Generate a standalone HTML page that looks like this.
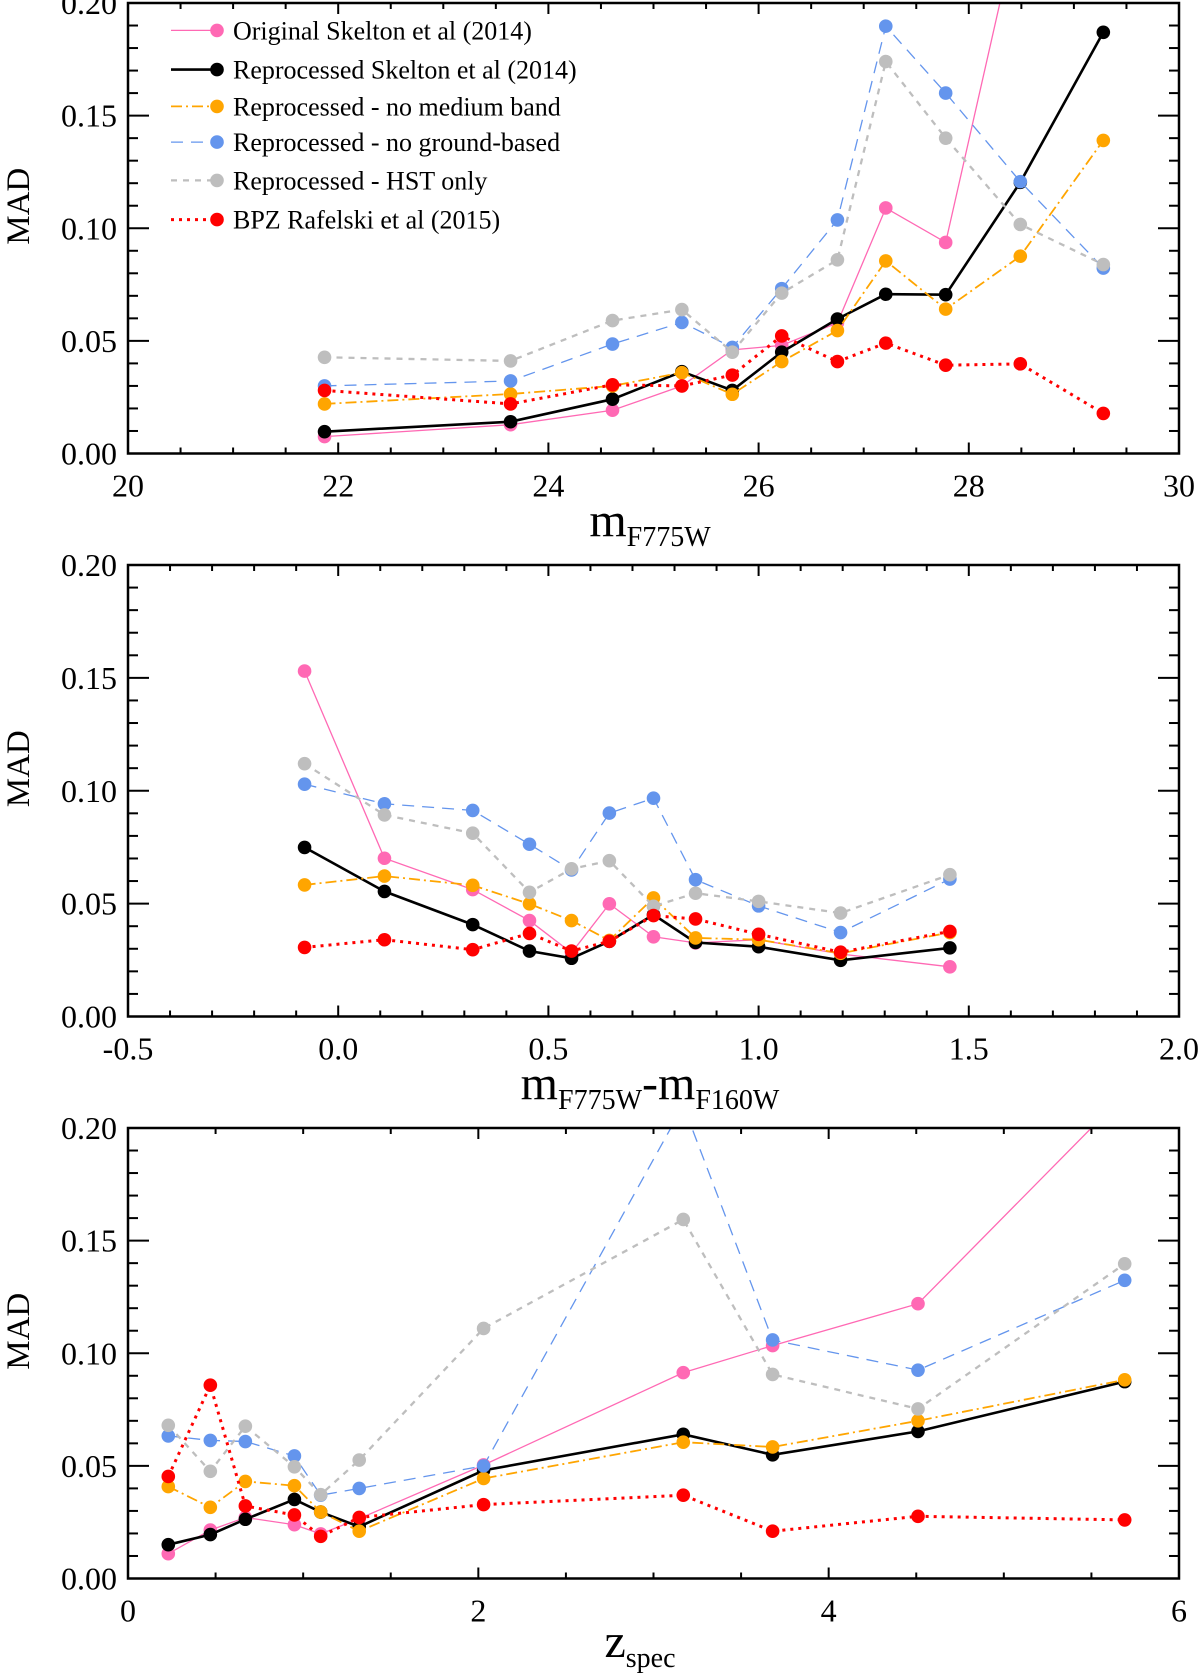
<!DOCTYPE html>
<html><head><meta charset="utf-8"><style>
html,body{margin:0;padding:0;background:#fff;}
svg{display:block;font-family:"Liberation Serif",serif;}
</style></head><body>
<svg id="chart" width="1200" height="1678" viewBox="0 0 1200 1678" xmlns="http://www.w3.org/2000/svg"></svg>
<script>
// ---------- data ----------
const seriesNames = ["Original Skelton et al (2014)","Reprocessed Skelton et al (2014)","Reprocessed - no medium band","Reprocessed - no ground-based","Reprocessed - HST only","BPZ Rafelski et al (2015)"];
const seriesKeys = ["original","reprocessed","no-medium-band","no-ground-based","hst-only","bpz-rafelski"];

const mag = [21.87,23.64,24.61,25.27,25.75,26.22,26.75,27.21,27.78,28.49,29.28];
const magOriginal = [0.0075,0.0128,0.0192,0.030,0.046,0.048,0.058,0.109,0.0937,0.24,0.30];
const magReproc = [0.0097,0.0141,0.0241,0.0363,0.028,0.045,0.0597,0.0707,0.0705,0.1204,0.187];
const magNoMed = [0.022,0.0264,0.030,0.0359,0.0263,0.0408,0.0546,0.0855,0.0641,0.0876,0.139];
const magNoGround = [0.030,0.0322,0.0486,0.0582,0.0471,0.0732,0.1037,0.1897,0.160,0.1207,0.0823];
const magHst = [0.0427,0.0411,0.059,0.0639,0.045,0.0712,0.086,0.174,0.140,0.1017,0.0839];
const magBpz = [0.028,0.022,0.0305,0.030,0.0348,0.0522,0.0408,0.049,0.0392,0.0398,0.0178];

const col = [-0.08,0.11,0.32,0.455,0.555,0.645,0.75,0.85,1.0,1.195,1.455];
const colOriginal = [0.153,0.0701,0.0562,0.0425,0.0282,0.0499,0.0353,0.0326,0.034,0.0277,0.022];
const colReproc = [0.0749,0.0554,0.0407,0.029,0.0258,0.0333,0.0451,0.0328,0.0309,0.0249,0.0304];
const colNoMed = [0.0583,0.0622,0.0581,0.0499,0.0425,0.0337,0.0525,0.0348,0.034,0.028,0.0372];
const colNoGround = [0.1029,0.0942,0.0913,0.0763,0.0649,0.0901,0.0967,0.0606,0.049,0.0372,0.0609];
const colHst = [0.112,0.0893,0.0812,0.055,0.0654,0.069,0.0488,0.0546,0.051,0.0458,0.0628];
const colBpz = [0.0306,0.034,0.0296,0.0368,0.029,0.0333,0.0447,0.0432,0.0364,0.0285,0.0377];

const zs = [0.23,0.47,0.67,0.95,1.1,1.32,2.03,3.17,3.68,4.51,5.69];
const zOriginal = [0.011,0.0215,0.0271,0.0239,0.0198,0.0266,0.0504,0.0914,0.1034,0.122,0.215];
const zReproc = [0.015,0.0195,0.0263,0.0351,0.0295,0.023,0.048,0.064,0.0549,0.0653,0.0874];
const zNoMed = [0.0408,0.0316,0.0431,0.0412,0.0295,0.021,0.0444,0.0605,0.0584,0.070,0.0882];
const zNoGround = [0.0633,0.0613,0.0608,0.0544,0.037,0.040,0.050,0.21,0.1059,0.0925,0.1324];
const zHst = [0.068,0.0476,0.0676,0.0496,0.0372,0.0526,0.111,0.1594,0.0906,0.0753,0.1397];
const zBpz = [0.0453,0.0858,0.0322,0.0282,0.0187,0.0271,0.0328,0.037,0.021,0.0276,0.026];

const yTicks = ["0.00","0.05","0.10","0.15","0.20"];
const magTicks = ["20","22","24","26","28","30"];
const colTicks = ["-0.5","0.0","0.5","1.0","1.5","2.0"];
const zTicks = ["0","2","4","6"];

// ---------- styles ----------
const styles = [
 {c:"#ff69b4", w:1.3, d:null},
 {c:"#000000", w:2.6, d:null},
 {c:"#ffa500", w:1.8, d:"11,4,2,4"},
 {c:"#6495ed", w:1.3, d:"12,8"},
 {c:"#bebebe", w:2.3, d:"6,6"},
 {c:"#ff0000", w:3, d:"3,5"}
];
const NS="http://www.w3.org/2000/svg";
const svg=document.getElementById('chart');
function mk(tag,attrs,parent){const e=document.createElementNS(NS,tag);for(const k in attrs)e.setAttribute(k,attrs[k]);(parent||svg).appendChild(e);return e;}

const L=128,R=1179;
const panels=[
 {top:3,bot:453.5,xmin:20,xmax:30,x:mag,ys:[magOriginal,magReproc,magNoMed,magNoGround,magHst,magBpz],ticks:magTicks,major:2,minor:0.5,name:"magnitude"},
 {top:565,bot:1016.5,xmin:-0.5,xmax:2.0,x:col,ys:[colOriginal,colReproc,colNoMed,colNoGround,colHst,colBpz],ticks:colTicks,major:0.5,minor:0.1,name:"colour"},
 {top:1128,bot:1578.5,xmin:0,xmax:6,x:zs,ys:[zOriginal,zReproc,zNoMed,zNoGround,zHst,zBpz],ticks:zTicks,major:2,minor:0.5,name:"redshift"}
];

panels.forEach((p,pi)=>{
  const g=mk('g',{});
  
  
  const xs=v=>L+(v-p.xmin)/(p.xmax-p.xmin)*(R-L);
  const ys=v=>p.bot-v/0.2*(p.bot-p.top);
  const cp=mk('clipPath',{id:'clip'+pi},g);
  mk('rect',{x:L,y:p.top,width:R-L,height:p.bot-p.top},cp);
  // series
  p.ys.forEach((arr,si)=>{
    const st=styles[si];
    const sg=mk('g',{'clip-path':'url(#clip'+pi+')'},g);
    
    
    const pts=arr.map((v,i)=>xs(p.x[i]).toFixed(1)+','+ys(v).toFixed(1)).join(' ');
    const pl=mk('polyline',{points:pts,fill:'none',stroke:st.c,'stroke-width':st.w},sg);
    if(st.d)pl.setAttribute('stroke-dasharray',st.d);
    
    
    arr.forEach((v,i)=>{
      const c=mk('circle',{cx:xs(p.x[i]),cy:ys(v),r:6.8,fill:st.c},sg);
      
      
    });
  });
  // frame
  const fr=mk('rect',{x:L,y:p.top,width:R-L,height:p.bot-p.top,fill:'none',stroke:'#000','stroke-width':2.5},g);
  
  
  // y ticks
  for(let k=0;k<=20;k++){
    const v=k*0.01, y=ys(v), len=(k%5===0)?21:10;
    mk('line',{x1:L,y1:y,x2:L+len,y2:y,stroke:'#000','stroke-width':2},g);
    mk('line',{x1:R,y1:y,x2:R-len,y2:y,stroke:'#000','stroke-width':2},g);
  }
  yTicks.forEach((t,i)=>{
    const tx=mk('text',{x:117,y:ys(i*0.05)+11,'font-size':32,'text-anchor':'end'},g);
    tx.textContent=t;
    
    
  });
  // x ticks
  const n=Math.round((p.xmax-p.xmin)/p.minor);
  const per=Math.round(p.major/p.minor);
  for(let k=0;k<=n;k++){
    const x=xs(p.xmin+k*p.minor), len=(k%per===0)?11:6;
    mk('line',{x1:x,y1:p.bot,x2:x,y2:p.bot-len,stroke:'#000','stroke-width':2},g);
    mk('line',{x1:x,y1:p.top,x2:x,y2:p.top+len,stroke:'#000','stroke-width':2},g);
  }
  p.ticks.forEach((t,i)=>{
    const tx=mk('text',{x:xs(p.xmin+i*p.major),y:p.bot+43,'font-size':32,'text-anchor':'middle'},g);
    tx.textContent=t;
    
    
  });
  // y title
  const cy=(p.top+p.bot)/2-22;
  const yt=mk('text',{x:0,y:0,'font-size':33,'text-anchor':'middle',transform:'translate(29,'+cy+') rotate(-90)'},g);
  yt.textContent='MAD';
  
  
});

// x titles
function title(x,y,parts,name){
  const t=mk('text',{x:x,y:y,'text-anchor':'middle'});
  
  
  parts.forEach(pt=>{
    const s=mk('tspan',{'font-size':pt[1],dy:pt[2]},t);
    s.textContent=pt[0];
  });
}
title(650,536,[["m",48,0],["F775W",28,10]],'x-axis-title-magnitude');
title(650,1099,[["m",48,0],["F775W",28,10],["-",48,-10],["m",48,0],["F160W",28,10]],'x-axis-title-colour');
title(640,1657,[["z",48,0],["spec",28,10]],'x-axis-title-redshift');

// legend
const lg=mk('g',{});


const rowsY=[30.4,69.6,106.4,142.1,180.4,219.6];
seriesNames.forEach((nm,i)=>{
  const st=styles[i];
  const e=mk('g',{},lg);
  
  
  const ln=mk('line',{x1:171,y1:rowsY[i],x2:217,y2:rowsY[i],stroke:st.c,'stroke-width':st.w},e);
  if(st.d)ln.setAttribute('stroke-dasharray',st.d);
  mk('circle',{cx:217,cy:rowsY[i],r:6.8,fill:st.c},e);
  const t=mk('text',{x:233,y:rowsY[i]+9,'font-size':26},e);
  t.textContent=nm;
});
</script>
</body></html>
